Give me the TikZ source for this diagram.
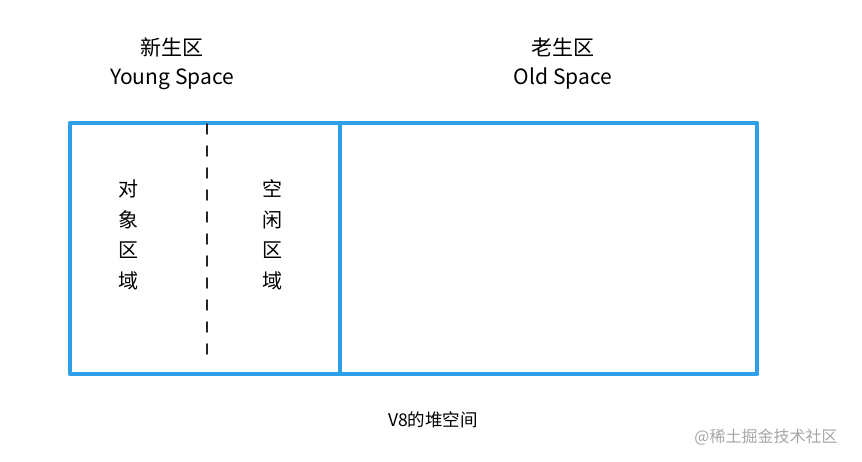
\documentclass[tikz,border=0pt]{standalone}
\usepackage{fontspec}
\setmainfont{Noto Sans CJK SC}
\usetikzlibrary{calc}
\definecolor{heapblue}{RGB}{45,160,232}

\begin{document}
\begin{tikzpicture}[line cap=round,line join=round,x=1pt,y=-1pt]
    \useasboundingbox (0,0) rectangle (862,462);

    % heap corners
    \coordinate (NW) at (70,123);
    \coordinate (SE) at (757,374);
    \coordinate (MidT) at (340,123);
    \coordinate (MidB) at (340,374);
    \coordinate (DashT) at (207,124);
    \coordinate (DashB) at (207,360);

    % heap box
    \draw[heapblue, line width=4.2pt] (NW) rectangle (SE);
    \draw[heapblue, line width=3.8pt] (MidT) -- (MidB);
    \draw[black!85, line width=1.8pt, dash pattern=on 10pt off 12pt] (DashT) -- (DashB);

    \begin{scope}[font=\fontsize{21}{24}\selectfont]
        \node (young) at (172,47) {新生区};
        \node (youngen) at (172,79) {Young Space};
        \node (old) at (563,47) {老生区};
        \node (olden) at (563,79) {Old Space};
    \end{scope}

    % regions
    \node[align=center, font=\fontsize{20}{30.5}\selectfont] (obj) at (128,235) {对\\象\\区\\域};
    \node[align=center, font=\fontsize{20}{30.5}\selectfont] (free) at (272,235) {空\\闲\\区\\域};

    \node[font=\fontsize{17.5}{20}\selectfont] (heap) at (433,420) {V8的堆空间};
    \node[gray!70, font=\fontsize{16}{18}\selectfont] (mark) at (766,437) {@稀土掘金技术社区};

\end{tikzpicture}
\end{document}
